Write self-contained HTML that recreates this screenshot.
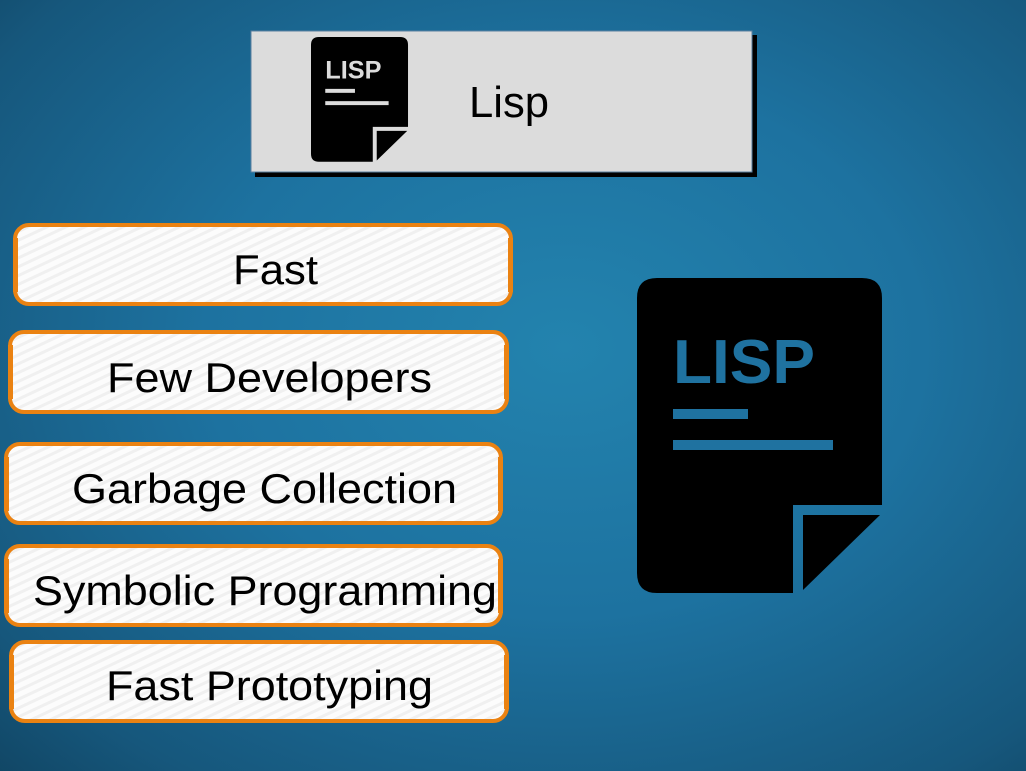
<!DOCTYPE html>
<html><head><meta charset="utf-8"><style>
html,body{margin:0;padding:0;width:1026px;height:771px;overflow:hidden}
body{background:radial-gradient(ellipse at 55% 45%,#2383ae 0%,#1d72a0 45%,#16577c 85%,#114766 100%)}
svg{display:block}
text{font-family:"Liberation Sans",sans-serif}
</style></head><body>
<svg width="1026" height="771" viewBox="0 0 1026 771" xmlns="http://www.w3.org/2000/svg">
<defs>
<pattern id="st" width="8" height="8" patternUnits="userSpaceOnUse" patternTransform="rotate(-25)">
<rect width="8" height="8" fill="#fcfcfc"/><rect width="8" height="3" fill="#f0f0f0"/>
</pattern>
</defs>
<rect x="255" y="35" width="502" height="142" fill="#000"/>
<rect x="251" y="31" width="501" height="141" fill="#dcdcdc" stroke="#5a7fa0" stroke-width="1"/>
<g transform="translate(311,37) scale(0.396)">
<path d="M20,0H225Q245,0 245,20V227H156V315H20Q0,315 0,295V20Q0,0 20,0Z" fill="#000"/>
<path d="M166,237H243L166,312Z" fill="#000"/>
<text x="36" y="105" font-size="62" font-weight="bold" fill="#dcdcdc" textLength="142" lengthAdjust="spacingAndGlyphs">LISP</text>
<rect x="36" y="131" width="75" height="10" fill="#dcdcdc"/>
<rect x="36" y="162" width="160" height="10" fill="#dcdcdc"/>
</g>
<text x="469" y="117" font-size="44" fill="#000" textLength="80" lengthAdjust="spacingAndGlyphs">Lisp</text>
<g transform="translate(637,278)">
<path d="M20,0H225Q245,0 245,20V227H156V315H20Q0,315 0,295V20Q0,0 20,0Z" fill="#000"/>
<path d="M166,237H243L166,312Z" fill="#000"/>
<text x="36" y="105" font-size="62" font-weight="bold" fill="#1f72a0" textLength="142" lengthAdjust="spacingAndGlyphs">LISP</text>
<rect x="36" y="131" width="75" height="10" fill="#1f72a0"/>
<rect x="36" y="162" width="160" height="10" fill="#1f72a0"/>
</g>
<g stroke="#ea8212" stroke-width="4" fill="url(#st)">
<rect x="15" y="225" width="496" height="79" rx="14"/>
<rect x="10" y="332" width="497" height="80" rx="14"/>
<rect x="6" y="444" width="495" height="79" rx="14"/>
<rect x="6" y="546" width="495" height="79" rx="14"/>
<rect x="11" y="642" width="496" height="79" rx="14"/>
</g>
<g fill="#ea8212">
<rect x="13" y="238" width="5" height="54"/><rect x="508" y="238" width="5" height="54"/>
<rect x="8" y="345" width="5" height="54"/><rect x="504" y="345" width="5" height="54"/>
<rect x="4" y="457" width="5" height="54"/><rect x="498" y="457" width="5" height="54"/>
<rect x="4" y="559" width="5" height="54"/><rect x="498" y="559" width="5" height="54"/>
<rect x="9" y="655" width="5" height="54"/><rect x="504" y="655" width="5" height="54"/>
</g>
<g font-size="42" fill="#000">
<text x="233" y="284" textLength="85" lengthAdjust="spacingAndGlyphs">Fast</text>
<text x="107" y="392" textLength="325" lengthAdjust="spacingAndGlyphs">Few Developers</text>
<text x="72" y="503" textLength="385" lengthAdjust="spacingAndGlyphs">Garbage Collection</text>
<text x="33" y="605" textLength="464" lengthAdjust="spacingAndGlyphs">Symbolic Programming</text>
<text x="106" y="700" textLength="327" lengthAdjust="spacingAndGlyphs">Fast Prototyping</text>
</g>
</svg>
</body></html>
